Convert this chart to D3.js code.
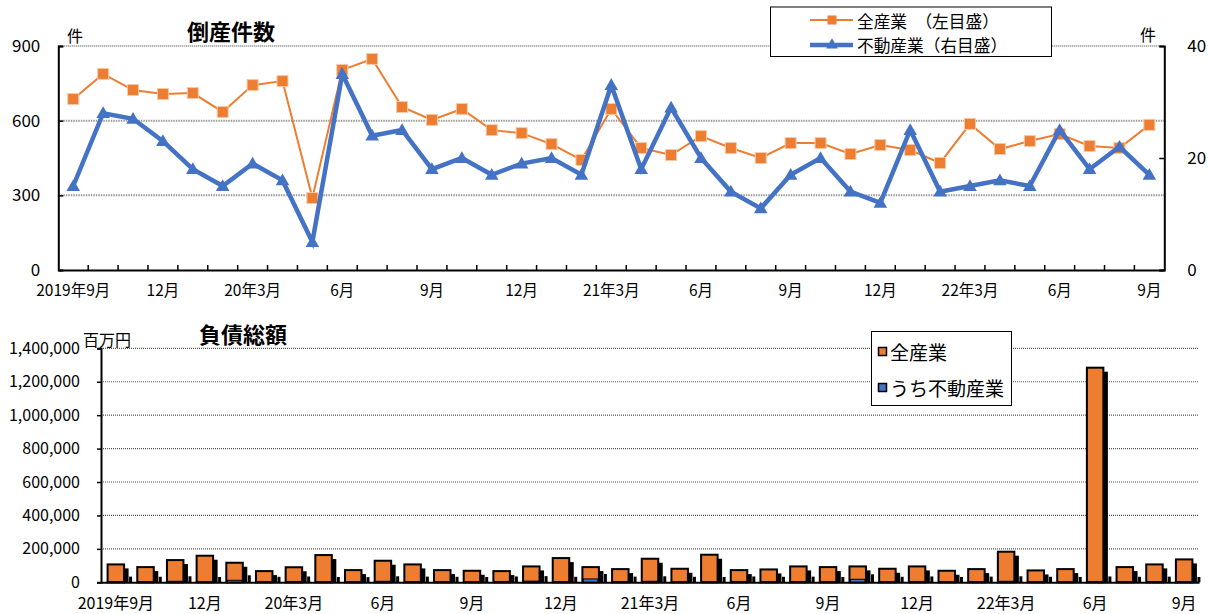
<!DOCTYPE html>
<html>
<head>
<meta charset="utf-8">
<script src="https://cdn.jsdelivr.net/npm/d3@7"></script>
<style>
  html, body { margin: 0; padding: 0; background: #fff; }
  svg { display: block; }
  text { font-family: "Noto Sans CJK JP", "Noto Sans", sans-serif; fill: #000; }
</style>
</head>
<body>
<svg id="chart" width="1208" height="614"></svg>
<script>
// Months shown on both panels (2019-09 .. 2022-09)
const months = [
  "2019-09","2019-10","2019-11","2019-12",
  "2020-01","2020-02","2020-03","2020-04","2020-05","2020-06","2020-07","2020-08","2020-09","2020-10","2020-11","2020-12",
  "2021-01","2021-02","2021-03","2021-04","2021-05","2021-06","2021-07","2021-08","2021-09","2021-10","2021-11","2021-12",
  "2022-01","2022-02","2022-03","2022-04","2022-05","2022-06","2022-07","2022-08","2022-09"
];
// Axis labels, one every third month
const tickLabels = ["2019年9月","12月","20年3月","6月","9月","12月","21年3月","6月","9月","12月","22年3月","6月","9月"];

// Bankruptcy counts: all industries (left scale) and real estate (right scale)
const countAll = [687,788,723,707,711,635,743,759,289,804,848,655,603,647,562,550,506,442,647,490,462,538,490,450,510,510,466,502,482,430,587,486,518,546,498,490,583];
const countRealEstate = [15,28,27,23,18,15,19,16,5,35,24,25,18,20,17,19,20,17,33,18,29,20,14,11,17,20,14,12,25,14,15,16,15,25,18,22,17];

// Total liabilities (million yen): all industries and the real-estate portion
const debtAll = [107000,91000,133000,159000,117000,67000,90000,163000,73000,129000,107000,73000,69000,67000,95000,145000,91000,79000,141000,81000,165000,73000,77000,95000,91000,95000,81000,95000,69000,79000,183000,71000,79000,1284000,91000,107000,137000];
const debtRealEstate = [4000,3000,6000,2000,12000,3000,5000,2000,1000,6000,4000,3000,2000,5000,7000,3000,20000,4000,6000,3000,2000,5000,3000,4000,2000,18000,3000,5000,2000,4000,6000,3000,2000,5000,3000,4000,2000];

const leftTicksTop = [0,300,600,900];
const rightTicksTop = [0,20,40];
const ticksBottom = [0,200000,400000,600000,800000,1000000,1200000,1400000];

const ORANGE = "#ED7D31";
const BLUE = "#4472C4";

const svg = d3.select("#chart");
const tickMonths = months.filter((m, i) => i % 3 === 0);
const labelOf = m => tickLabels[tickMonths.indexOf(m)];

// ---------------- Top panel: bankruptcy counts ----------------
const areaT = { left: 58.3, right: 1164.3, top: 46, bottom: 270 };
const xT = d3.scaleBand().domain(months).range([areaT.left, areaT.right]);
const yL = d3.scaleLinear().domain([0, 900]).range([areaT.bottom, areaT.top]);
const yR = d3.scaleLinear().domain([0, 40]).range([areaT.bottom, areaT.top]);
const cx = m => xT(m) + xT.bandwidth() / 2;

const gTop = svg.append("g");

// gridlines
gTop.selectAll(".gridT").data([300, 600, 900]).join("line")
  .attr("x1", areaT.left).attr("x2", areaT.right)
  .attr("y1", d => yL(d)).attr("y2", d => yL(d))
  .attr("stroke", d => d === 900 ? "#333" : "#9a9a9a")
  .attr("stroke-width", d => d === 900 ? 1 : 2)
  .attr("stroke-dasharray", d => d === 900 ? "1,1" : "1.5,1");

// left axis
const axL = gTop.append("g").attr("transform", `translate(${areaT.left},0)`)
  .call(d3.axisLeft(yL).tickValues(leftTicksTop).tickSize(-5).tickPadding(20));
axL.select(".domain").attr("stroke", "#000").attr("stroke-width", 2);
axL.selectAll(".tick line").attr("stroke", "#000").attr("stroke-width", 1.5);
axL.selectAll(".tick text").attr("font-size", 17).attr("font-family", "Noto Sans CJK JP").attr("dx", 2);

// right axis
const axR = gTop.append("g").attr("transform", `translate(${areaT.right},0)`)
  .call(d3.axisRight(yR).tickValues(rightTicksTop).tickSize(-5).tickPadding(23));
axR.select(".domain").attr("stroke", "#000").attr("stroke-width", 2);
axR.selectAll(".tick line").attr("stroke", "#000").attr("stroke-width", 1.5);
axR.selectAll(".tick text").attr("font-size", 17).attr("font-family", "Noto Sans CJK JP");

// bottom axis with inside ticks on the category boundaries
const axB = gTop.append("g").attr("transform", `translate(0,${areaT.bottom})`)
  .call(d3.axisBottom(xT).tickValues(tickMonths).tickFormat(labelOf).tickSize(0).tickPadding(15));
axB.select(".domain").attr("stroke", "#000").attr("stroke-width", 2);
axB.selectAll(".tick text").attr("font-size", 15.5).attr("font-family", "Noto Sans CJK JP");
gTop.selectAll(".bt").data(months.slice(1)).join("line")
  .attr("x1", d => xT(d)).attr("x2", d => xT(d))
  .attr("y1", areaT.bottom).attr("y2", areaT.bottom - 5)
  .attr("stroke", "#000").attr("stroke-width", 1.5);

// all-industries line (left scale)
gTop.append("path").datum(countAll)
  .attr("fill", "none").attr("stroke", ORANGE).attr("stroke-width", 2)
  .attr("d", d3.line().x((d, i) => cx(months[i])).y(d => yL(d)));
gTop.selectAll(".sq").data(countAll).join("rect")
  .attr("x", (d, i) => cx(months[i]) - 5.5).attr("y", d => yL(d) - 5.5)
  .attr("width", 11).attr("height", 11)
  .attr("fill", ORANGE).attr("stroke", "#f7c9a8").attr("stroke-width", 1);

// real-estate line (right scale)
const tri = d3.symbol().type(d3.symbolTriangle).size(80);
gTop.append("path").datum(countRealEstate)
  .attr("fill", "none").attr("stroke", BLUE).attr("stroke-width", 4.5).attr("stroke-linejoin", "miter")
  .attr("d", d3.line().x((d, i) => cx(months[i])).y(d => yR(d)));
gTop.selectAll(".tr").data(countRealEstate).join("path")
  .attr("transform", (d, i) => `translate(${cx(months[i])},${yR(d) + 1})`)
  .attr("d", tri).attr("fill", BLUE);

// title and units
gTop.append("text").attr("x", 231).attr("y", 30).attr("text-anchor", "middle")
  .attr("dominant-baseline", "central").attr("font-size", 22).attr("font-weight", "bold").text("倒産件数");
gTop.append("text").attr("x", 75).attr("y", 35).attr("text-anchor", "middle")
  .attr("dominant-baseline", "central").attr("font-size", 16).text("件");
gTop.append("text").attr("x", 1148).attr("y", 34).attr("text-anchor", "middle")
  .attr("dominant-baseline", "central").attr("font-size", 16).text("件");

// legend
const lg = gTop.append("g");
lg.append("rect").attr("x", 770.5).attr("y", 7).attr("width", 281).attr("height", 49.5)
  .attr("fill", "#fff").attr("stroke", "#000").attr("stroke-width", 1);
lg.append("line").attr("x1", 810).attr("x2", 853).attr("y1", 20).attr("y2", 20)
  .attr("stroke", ORANGE).attr("stroke-width", 2);
lg.append("rect").attr("x", 827.5).attr("y", 15.5).attr("width", 9).attr("height", 9).attr("fill", ORANGE);
lg.append("line").attr("x1", 810).attr("x2", 853).attr("y1", 45).attr("y2", 45)
  .attr("stroke", BLUE).attr("stroke-width", 4.5);
lg.append("path").attr("transform", "translate(832,45)")
  .attr("d", d3.symbol().type(d3.symbolTriangle).size(60)).attr("fill", BLUE);
lg.append("text").attr("x", 857).attr("y", 21).attr("dominant-baseline", "central")
  .attr("font-size", 16.7).text("全産業　（左目盛）");
lg.append("text").attr("x", 857).attr("y", 45).attr("dominant-baseline", "central")
  .attr("font-size", 16.7).text("不動産業（右目盛）");

// ---------------- Bottom panel: total liabilities ----------------
const areaB = { left: 101, right: 1199, top: 348.3, bottom: 582.3 };
const xB = d3.scaleBand().domain(months).range([areaB.left, areaB.right]);
const yB = d3.scaleLinear().domain([0, 1400000]).range([areaB.bottom, areaB.top]);
const barW = 16.5;
const bx = m => xB(m) + xB.bandwidth() / 2 - barW / 2;

const gBot = svg.append("g");

gBot.selectAll(".gridB").data(ticksBottom.slice(1)).join("line")
  .attr("x1", areaB.left).attr("x2", areaB.right)
  .attr("y1", d => yB(d)).attr("y2", d => yB(d))
  .attr("stroke", "#555").attr("stroke-width", 1.2).attr("stroke-dasharray", "1,1");

const axBL = gBot.append("g").attr("transform", `translate(${areaB.left},0)`)
  .call(d3.axisLeft(yB).tickValues(ticksBottom).tickFormat(d3.format(",")).tickSize(4).tickPadding(17));
axBL.select(".domain").attr("stroke", "#000").attr("stroke-width", 2);
axBL.selectAll(".tick line").attr("stroke", "#000").attr("stroke-width", 1.5);
axBL.selectAll(".tick text").attr("font-size", 16).attr("font-family", "Noto Sans CJK JP");

// bar shadows, then bars
const rows = months.map((m, i) => ({ m, all: debtAll[i], re: debtRealEstate[i] }));
gBot.selectAll(".shB").data(rows).join("rect")
  .attr("x", d => bx(d.m) + barW + 5).attr("width", 3)
  .attr("y", d => yB(d.re) - 5).attr("height", d => areaB.bottom - yB(d.re) + 5)
  .attr("fill", "#000");
gBot.selectAll(".shA").data(rows).join("rect")
  .attr("x", d => bx(d.m) + 4.5).attr("width", barW)
  .attr("y", d => yB(d.all) + 4).attr("height", d => Math.max(0, areaB.bottom - yB(d.all) - 4))
  .attr("fill", "#000");
gBot.selectAll(".barA").data(rows).join("rect")
  .attr("x", d => bx(d.m)).attr("width", barW)
  .attr("y", d => yB(d.all)).attr("height", d => areaB.bottom - yB(d.all))
  .attr("fill", ORANGE).attr("stroke", "#000").attr("stroke-width", 2);
gBot.selectAll(".barR").data(rows).join("rect")
  .attr("x", d => bx(d.m) + 1).attr("width", barW - 2)
  .attr("y", d => yB(d.re)).attr("height", d => areaB.bottom - yB(d.re))
  .attr("fill", BLUE).attr("stroke", "#000").attr("stroke-width", 1);

const axBB = gBot.append("g").attr("transform", `translate(0,${areaB.bottom})`)
  .call(d3.axisBottom(xB).tickValues(tickMonths).tickFormat(labelOf).tickSize(0).tickPadding(15));
axBB.select(".domain").attr("stroke", "#000").attr("stroke-width", 2);
axBB.selectAll(".tick text").attr("font-size", 16).attr("font-family", "Noto Sans CJK JP");

gBot.append("text").attr("x", 243).attr("y", 333).attr("text-anchor", "middle")
  .attr("dominant-baseline", "central").attr("font-size", 22).attr("font-weight", "bold").text("負債総額");
gBot.append("text").attr("x", 107).attr("y", 339).attr("text-anchor", "middle")
  .attr("dominant-baseline", "central").attr("font-size", 16).text("百万円");

// legend
const lb = gBot.append("g");
lb.append("rect").attr("x", 871.5).attr("y", 331.5).attr("width", 140).attr("height", 74)
  .attr("fill", "#fff").attr("stroke", "#000").attr("stroke-width", 1);
lb.append("rect").attr("x", 878.5).attr("y", 347.5).attr("width", 8).attr("height", 8)
  .attr("fill", ORANGE).attr("stroke", "#000").attr("stroke-width", 1.5);
lb.append("rect").attr("x", 878.5).attr("y", 383.5).attr("width", 8).attr("height", 8)
  .attr("fill", BLUE).attr("stroke", "#000").attr("stroke-width", 1.5);
lb.append("text").attr("x", 890).attr("y", 351).attr("dominant-baseline", "central")
  .attr("font-size", 19).text("全産業");
lb.append("text").attr("x", 890).attr("y", 387).attr("dominant-baseline", "central")
  .attr("font-size", 19).text("うち不動産業");
</script>
</body>
</html>
